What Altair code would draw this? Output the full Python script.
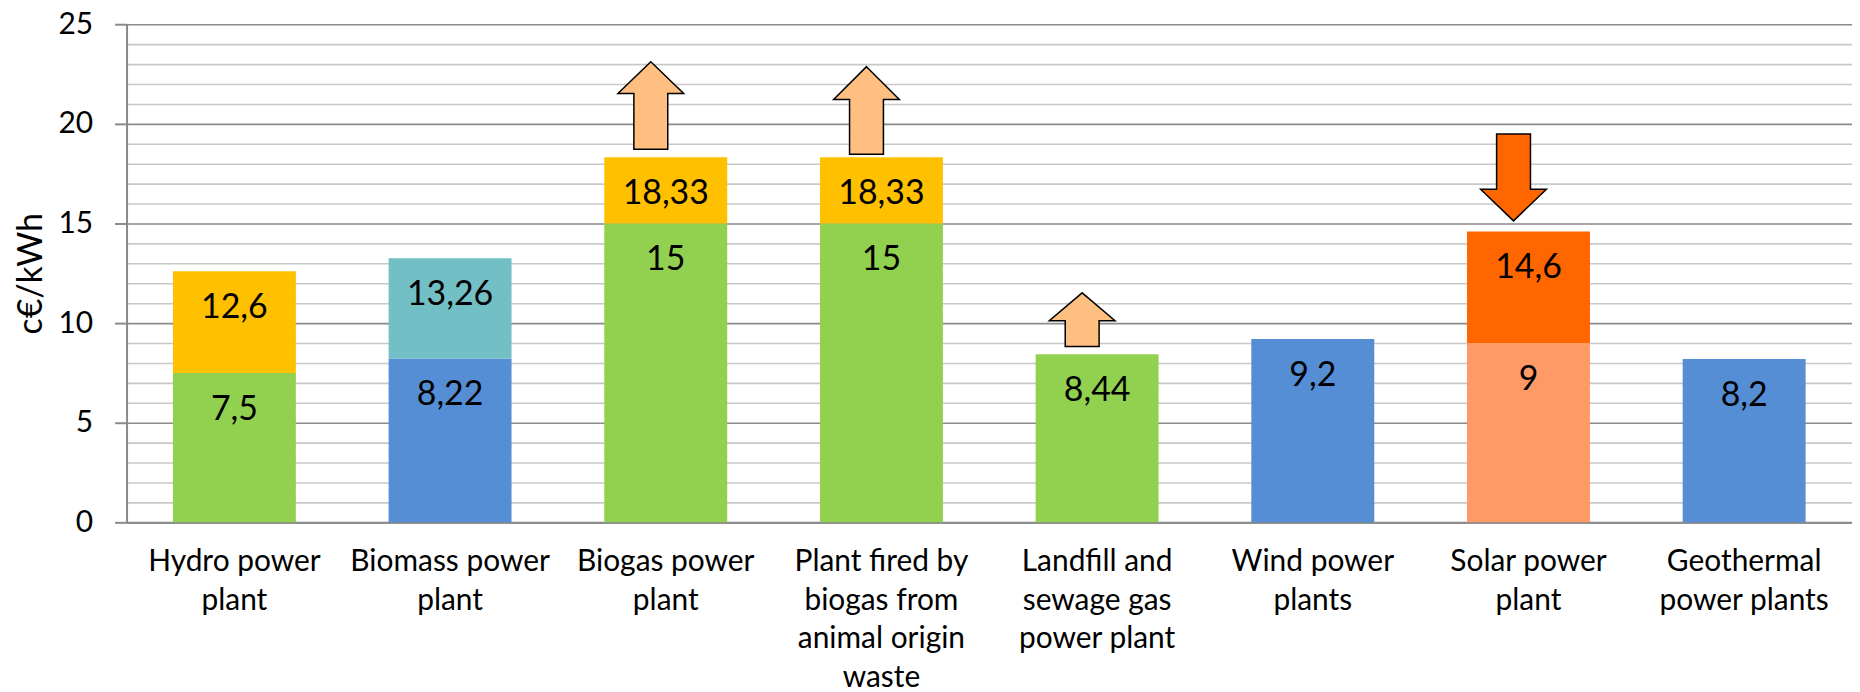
import altair as alt
import pandas as pd

# ---- data ----
categories = [
    "Hydro power\nplant",
    "Biomass power\nplant",
    "Biogas power\nplant",
    "Plant fired by\nbiogas from\nanimal origin\nwaste",
    "Landfill and\nsewage gas\npower plant",
    "Wind power\nplants",
    "Solar power\nplant",
    "Geothermal\npower plants",
]
base_value = [7.5, 8.22, 15, 15, 8.44, 9.2, 9, 8.2]
total_value = [12.6, 13.26, 18.33, 18.33, None, None, 14.6, None]
base_group = ["g1", "g2", "g1", "g1", "g1", "g2", "g3", "g2"]
top_group = ["t1", "t2", "t1", "t1", None, None, "t3", None]

arrow_cat = [categories[2], categories[3], categories[4], categories[6]]
arrow_tip = [23.12, 22.87, 11.52, 15.13]
arrow_head = [21.52, 21.22, 10.12, 16.72]
arrow_tail = [18.72, 18.47, 8.82, 19.49]

# ---- layout constants ----
W, H = 1732, 500
YMAX = 25
PX = H / YMAX
HEAD_W, SHAFT_W = 66, 34

def fmt(v):
    return f"{v:g}".replace(".", ",")

rows = []
for c, b, t, bg, tg in zip(categories, base_value, total_value, base_group, top_group):
    rows.append(dict(cat=c, y0=0, y1=b, grp=bg, label=fmt(b)))
    if t is not None:
        rows.append(dict(cat=c, y0=b, y1=t, grp=tg, label=fmt(t)))
df = pd.DataFrame(rows)

def arrow_path(tip, head, tail):
    L = abs(tip - tail) * PX
    hh = abs(tip - head) * PX
    side = max(L, HEAD_W)
    h = side / 2
    s = -1 if tip > tail else 1
    ty = s * L / 2
    by = ty - s * hh
    ey = -s * L / 2
    pts = [(0, ty), (HEAD_W / 2, by), (SHAFT_W / 2, by), (SHAFT_W / 2, ey),
           (-SHAFT_W / 2, ey), (-SHAFT_W / 2, by), (-HEAD_W / 2, by)]
    d = "M" + " L".join(f"{x / h:.4f},{y / h:.4f}" for x, y in pts) + " Z"
    return d, side * side

arows = []
for c, tp, hd, tl in zip(arrow_cat, arrow_tip, arrow_head, arrow_tail):
    d, sz = arrow_path(tp, hd, tl)
    arows.append(dict(cat=c, ymid=(tp + tl) / 2, path=d, sz=sz,
                      kind="up" if tp > tl else "down"))
adf = pd.DataFrame(arows)

FONT = "Lato"
GRID_MAJOR = "#8A8A8A"
GRID_MINOR = "#C8C8C8"

x_scale = alt.Scale(domain=categories, paddingInner=0.43, paddingOuter=0.215)
x_axis = alt.Axis(
    title=None, labelAngle=0, labelExpr="split(datum.label, '\\n')",
    labelFont=FONT, labelFontSize=30, labelColor="black",
    labelLineHeight=39, labelPadding=24, labelBaseline="top",
    labelLimit=600, labelOverlap=False,
    ticks=False, domainColor=GRID_MAJOR, domainWidth=2,
)
y_scale = alt.Scale(domain=[0, YMAX], nice=False, zero=True)
y_axis = alt.Axis(
    values=list(range(0, YMAX + 1)),
    title="c€/kWh", titleFont=FONT, titleFontSize=34, titleFontWeight="normal",
    titleColor="black", titlePadding=10,
    labelFont=FONT, labelFontSize=30, labelColor="black", labelPadding=22,
    labelOverlap=False,
    labelExpr="datum.value % 5 === 0 ? datum.label : ''",
    grid=True,
    gridColor={"condition": {"test": "datum.value % 5 === 0", "value": GRID_MAJOR},
               "value": GRID_MINOR},
    gridWidth=1.6,
    tickColor=GRID_MAJOR, tickWidth=2, tickSize=12,
    tickOpacity={"condition": {"test": "datum.value % 5 === 0", "value": 1},
                 "value": 0},
    domainColor=GRID_MAJOR, domainWidth=2,
)

def xe():
    return alt.X("cat:N", sort=categories, scale=x_scale, axis=x_axis)

def ye(field):
    return alt.Y(field, scale=y_scale, axis=y_axis)

color_scale = alt.Scale(
    domain=["g1", "g2", "g3", "t1", "t2", "t3"],
    range=["#92D050", "#558ED5", "#FF9966", "#FFC000", "#72BFC5", "#FF6600"],
)

bars = alt.Chart(df).mark_bar().encode(
    x=xe(),
    y=ye("y1:Q"),
    y2="y0:Q",
    color=alt.Color("grp:N", scale=color_scale, legend=None),
)

labels = alt.Chart(df).mark_text(
    dy=37, baseline="middle", align="center", font=FONT, fontSize=34, color="black"
).encode(
    x=xe(),
    y=ye("y1:Q"),
    text="label:N",
)

arrows = alt.Chart(adf).mark_point(
    filled=True, stroke="black", strokeWidth=1.5, opacity=1, xOffset=-15
).encode(
    x=xe(),
    y=ye("ymid:Q"),
    shape=alt.Shape("path:N", scale=None),
    size=alt.Size("sz:Q", scale=None),
    fill=alt.Fill("kind:N", scale=alt.Scale(domain=["up", "down"],
                                            range=["#FFBF80", "#FF6600"]), legend=None),
)

chart = alt.layer(bars, labels, arrows).properties(
    width=W, height=H,
    autosize=alt.AutoSizeParams(type="none"),
    padding={"left": 119, "top": 15, "right": 0, "bottom": 167},
).configure_view(stroke=None)

chart.save("out.html", embed_options={"renderer": "svg", "actions": False})
